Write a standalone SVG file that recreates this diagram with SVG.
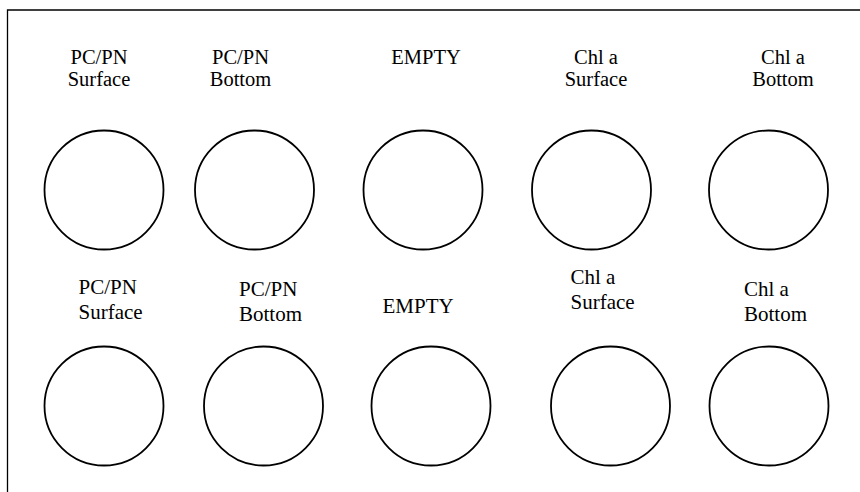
<svg xmlns="http://www.w3.org/2000/svg" width="860" height="492" viewBox="0 0 860 492">
  <style>
    .well { fill: #ffffff; stroke: #000000; stroke-width: 1.8; }
    .frame { fill: none; stroke: #000000; stroke-width: 1.3; }
    .lbl { font-family: "Liberation Serif", "Times New Roman", serif; fill: #000000; }
    .r1 { font-size: 20.5px; text-anchor: middle; }
    .r2 { font-size: 21px; }
  </style>
  <rect width="860" height="492" fill="#ffffff"/>
  <!-- open frame: top and left edges only -->
  <path class="frame" d="M7.5 492 V10 H860"/>

  <!-- upper row -->
  <g id="u1"><text class="lbl r1" x="99" y="64">PC/PN</text><text class="lbl r1" x="99" y="86">Surface</text><circle class="well" cx="104" cy="190" r="59.5"/></g>
  <g id="u2"><text class="lbl r1" x="240.5" y="64">PC/PN</text><text class="lbl r1" x="240.5" y="86">Bottom</text><circle class="well" cx="254.5" cy="190" r="59.5"/></g>
  <g id="u3"><text class="lbl r1" x="426" y="63.5">EMPTY</text><circle class="well" cx="423" cy="190" r="59.5"/></g>
  <g id="u4"><text class="lbl r1" x="596" y="64">Chl a</text><text class="lbl r1" x="596" y="86">Surface</text><circle class="well" cx="591.5" cy="190" r="59.5"/></g>
  <g id="u5"><text class="lbl r1" x="783" y="64">Chl a</text><text class="lbl r1" x="783" y="86">Bottom</text><circle class="well" cx="768.5" cy="190" r="59.5"/></g>

  <!-- lower row -->
  <g id="l1"><text class="lbl r2" x="78.5" y="293.5">PC/PN</text><text class="lbl r2" x="78.5" y="318.5">Surface</text><circle class="well" cx="104" cy="406" r="59.5"/></g>
  <g id="l2"><text class="lbl r2" x="239" y="296">PC/PN</text><text class="lbl r2" x="239" y="321">Bottom</text><circle class="well" cx="263.5" cy="406" r="59.5"/></g>
  <g id="l3"><text class="lbl r2" x="382.5" y="312.5">EMPTY</text><circle class="well" cx="431" cy="406" r="59.5"/></g>
  <g id="l4"><text class="lbl r2" x="570.5" y="284">Chl a</text><text class="lbl r2" x="570.5" y="309">Surface</text><circle class="well" cx="610.5" cy="406" r="59.5"/></g>
  <g id="l5"><text class="lbl r2" x="744" y="296">Chl a</text><text class="lbl r2" x="744" y="321">Bottom</text><circle class="well" cx="769" cy="406" r="59.5"/></g>

  <g id="connectors"/>
</svg>
